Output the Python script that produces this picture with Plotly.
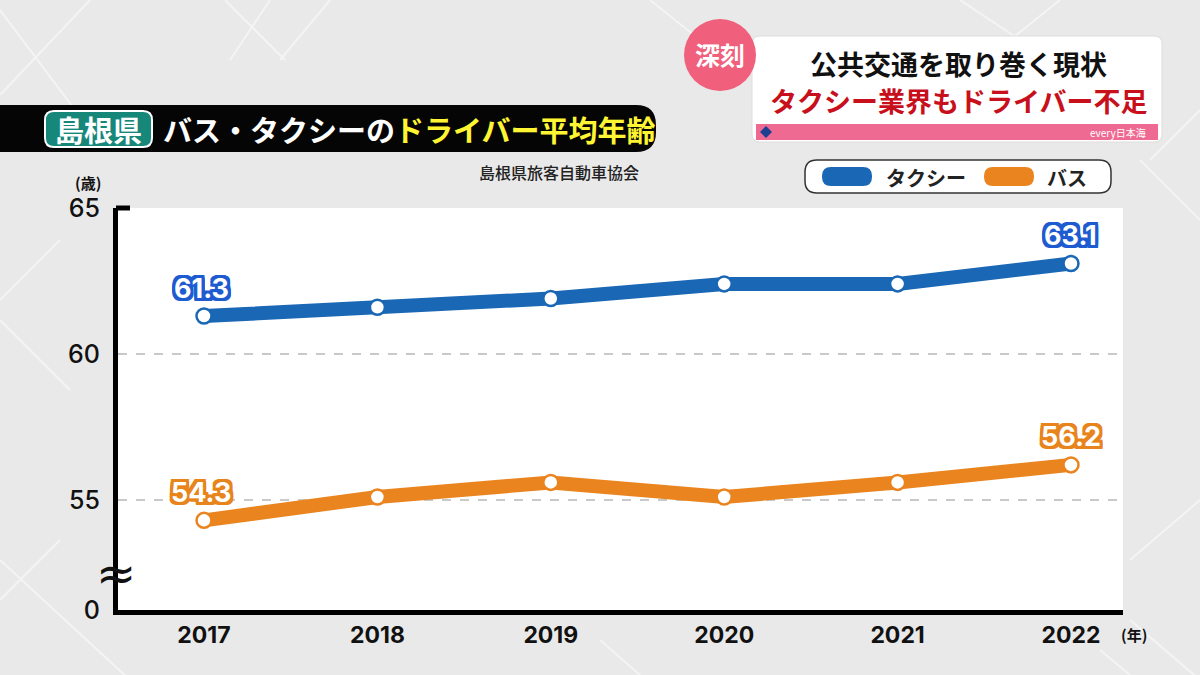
import plotly.graph_objects as go

# ---------------- data ----------------
years = [2017, 2018, 2019, 2020, 2021, 2022]
year_labels = ["2017", "2018", "2019", "2020", "2021", "2022"]
taxi = [61.3, 61.6, 61.9, 62.4, 62.4, 63.1]
bus = [54.3, 55.1, 55.6, 55.1, 55.6, 56.2]
series_names = ["タクシー", "バス"]
y_tickvals = [51.23, 55, 60, 65]
y_ticktext = ["0", "55", "60", "65"]

# ---------------- geometry helpers ----------------
W, H = 1200, 675
L, R, T, B = 118, 1123, 208, 610


def px(x):
    return (x - L) / (R - L)


def py(y):
    return (B - y) / (B - T)


def rrect(x0, y0, x1, y1, r):
    rx = r / (R - L)
    ry = r / (B - T)
    X0, X1 = px(x0), px(x1)
    Y0, Y1 = py(y0), py(y1)  # Y0 top (bigger), Y1 bottom
    return (f"M {X0+rx},{Y0} L {X1-rx},{Y0} Q {X1},{Y0} {X1},{Y0-ry} "
            f"L {X1},{Y1+ry} Q {X1},{Y1} {X1-rx},{Y1} L {X0+rx},{Y1} "
            f"Q {X0},{Y1} {X0},{Y1+ry} L {X0},{Y0-ry} Q {X0},{Y0} {X0+rx},{Y0} Z")


BLUE = "#1967b5"
ORANGE = "#ea841f"
BLUE_LBL = "#1f5bd0"
ORANGE_LBL = "#e8841c"
JP = "Noto Sans CJK JP"
NUM = "Inter"

fig = go.Figure()

fig.add_trace(go.Scatter(
    x=years, y=taxi, mode="lines+markers", name=series_names[0],
    line=dict(color=BLUE, width=14),
    marker=dict(size=15, color="white", line=dict(color=BLUE, width=2.5)),
    showlegend=False, hoverinfo="skip"))
fig.add_trace(go.Scatter(
    x=years, y=bus, mode="lines+markers", name=series_names[1],
    line=dict(color=ORANGE, width=14),
    marker=dict(size=15, color="white", line=dict(color=ORANGE, width=2.5)),
    showlegend=False, hoverinfo="skip"))


def outline(c, w=2):
    offs = [(w, 0), (-w, 0), (0, w), (0, -w), (w, w), (-w, -w), (w, -w), (-w, w),
            (w * 0.5, w), (-w * 0.5, w), (w * 0.5, -w), (-w * 0.5, -w),
            (w, w * 0.5), (-w, w * 0.5), (w, -w * 0.5), (-w, -w * 0.5)]
    return ", ".join(f"{a}px {b}px 0 {c}" for a, b in offs)


annotations = []
for series, col in ((taxi, BLUE_LBL), (bus, ORANGE_LBL)):
    for i in (0, len(years) - 1):
        annotations.append(dict(
            x=years[i], y=series[i], xref="x", yref="y",
            text=f"<b>{series[i]:.1f}</b>", showarrow=False,
            xanchor="center", yanchor="middle",
            yshift=28, xshift=-3 if i == 0 else 0,
            font=dict(family=NUM, size=27, color="white", weight=900,
                      shadow=outline(col, 3))))


def label(x, y, text, size, color, family=JP, xanchor="center", weight=None):
    f = dict(family=family, size=size, color=color)
    if weight:
        f["weight"] = weight
    annotations.append(dict(x=px(x), y=py(y), xref="paper", yref="paper",
                            text=text, showarrow=False, xanchor=xanchor,
                            yanchor="middle", font=f))


# axis unit labels
label(88, 182, "<b>(歳)</b>", 15, "#111")
label(1134, 634, "<b>(年)</b>", 15, "#111")
# axis break mark
label(116, 573, "≈", 48, "#111", family="DejaVu Sans")
# source
label(641, 172, "島根県旅客自動車協会", 16, "#222", xanchor="right", weight=500)

# title banner text
label(98, 129, "<b>島根県</b>", 29, "white")
label(161, 129, "<b>バス・タクシーの<span style='color:#fff533'>ドライバー平均年齢</span></b>",
      29, "white", xanchor="left")

# top-right header
label(720, 54, "<b>深刻</b>", 25, "white")
label(958, 63, "<b>公共交通を取り巻く現状</b>", 27, "#111")
label(958, 101, "<b>タクシー業界もドライバー不足</b>", 27, "#c8101c")
label(1148, 132, "every日本海", 10, "white", xanchor="right")

# legend text
label(884, 177, "<b>" + series_names[0] + "</b>", 20, "#222", xanchor="left")
label(1045, 177, "<b>" + series_names[1] + "</b>", 20, "#222", xanchor="left")

shapes = []
# background pattern lines (below plot bg)
pattern = [((0, 10), (105, 150)), ((90, 0), (0, 95)), ((270, 0), (230, 60)),
           ((225, 0), (285, 60)), ((0, 560), (130, 680)), ((0, 600), (60, 540)),
           ((280, 60), (330, 0)), ((960, 0), (1020, 40)), ((1060, 0), (1010, 40)),
           ((1150, 160), (1200, 110)), ((1140, 160), (1200, 220)),
           ((1130, 560), (1200, 500)), ((1130, 620), (1200, 680)),
           ((600, 640), (640, 675)), ((1100, 650), (1130, 675)),
           ((650, 0), (700, 40)), ((0, 300), (60, 240)), ((0, 320), (70, 390))]
for (a, b) in pattern:
    shapes.append(dict(type="line", xref="paper", yref="paper", layer="below",
                       x0=px(a[0]), y0=py(a[1]), x1=px(b[0]), y1=py(b[1]),
                       line=dict(color="#f4f4f4", width=2)))

# black title banner
shapes.append(dict(type="path", xref="paper", yref="paper", path=rrect(-20, 105, 656, 152, 20),
                   fillcolor="#050505", line=dict(width=0)))
shapes.append(dict(type="path", xref="paper", yref="paper", path=rrect(45, 111, 152, 147, 9),
                   fillcolor="#17877a", line=dict(color="white", width=2)))

# top-right header box
shapes.append(dict(type="path", xref="paper", yref="paper", path=rrect(752, 36, 1162, 142, 8),
                   fillcolor="white", line=dict(color="#dddddd", width=1)))
shapes.append(dict(type="rect", xref="paper", yref="paper",
                   x0=px(756), x1=px(1158), y0=py(124), y1=py(140),
                   fillcolor="#ef6a92", line=dict(width=0)))
shapes.append(dict(type="path", xref="paper", yref="paper",
                   path=f"M {px(760)},{py(132)} L {px(766)},{py(126)} L {px(772)},{py(132)} L {px(766)},{py(138)} Z",
                   fillcolor="#1d3f8f", line=dict(width=0)))
shapes.append(dict(type="circle", xref="paper", yref="paper",
                   x0=px(684), x1=px(756), y0=py(19), y1=py(91),
                   fillcolor="#f05f7c", line=dict(width=0)))

# legend box
shapes.append(dict(type="path", xref="paper", yref="paper", path=rrect(805, 160, 1111, 193, 12),
                   fillcolor="white", line=dict(color="#333", width=1.5)))
shapes.append(dict(type="path", xref="paper", yref="paper", path=rrect(822, 167, 872, 186, 9),
                   fillcolor=BLUE, line=dict(width=0)))
shapes.append(dict(type="path", xref="paper", yref="paper", path=rrect(984, 167, 1034, 186, 9),
                   fillcolor=ORANGE, line=dict(width=0)))

# small tick at top of y axis
shapes.append(dict(type="line", xref="paper", yref="paper",
                   x0=px(116), x1=px(130), y0=py(208), y1=py(208),
                   line=dict(color="black", width=5)))

fig.update_layout(
    width=W, height=H,
    margin=dict(l=L, r=W - R, t=T, b=H - B, pad=0),
    paper_bgcolor="#e9e9e9",
    plot_bgcolor="white",
    annotations=annotations,
    shapes=shapes,
    xaxis=dict(range=[2016.504, 2022.30], tickvals=years, ticktext=year_labels,
               showgrid=False, zeroline=False, showline=True, linecolor="black",
               linewidth=5, ticks="", ticklabelstandoff=0,
               tickfont=dict(family=NUM, size=23, color="#111", weight=700)),
    yaxis=dict(range=[51.23, 65], tickvals=y_tickvals, ticktext=y_ticktext,
               showgrid=True, gridcolor="#c9c9c9", griddash="dash", gridwidth=1.5,
               zeroline=False, showline=True, linecolor="black", linewidth=5,
               ticks="", ticklabelstandoff=8,
               tickfont=dict(family=NUM, size=25, color="#111", weight=500)),
)

fig.write_html("out.html", config={"displayModeBar": False},
               post_script="document.body.style.margin='0';document.body.style.overflow='hidden';")
